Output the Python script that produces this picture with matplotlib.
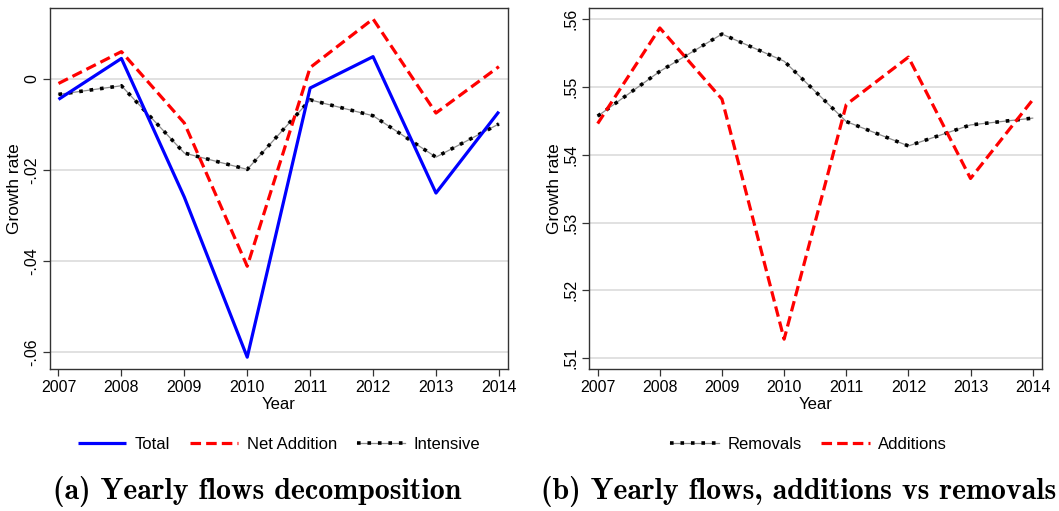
import matplotlib
matplotlib.use("Agg")
import matplotlib.pyplot as plt
from matplotlib.legend_handler import HandlerTuple
from matplotlib import font_manager

years = [2007, 2008, 2009, 2010, 2011, 2012, 2013, 2014]

# Panel (a)
total = [-0.0045, 0.0045, -0.0260, -0.0612, -0.0020, 0.0049, -0.0251, -0.0072]
net_addition = [-0.0010, 0.0060, -0.0097, -0.0412, 0.0025, 0.0132, -0.0075, 0.0027]
intensive = [-0.0034, -0.0015, -0.0163, -0.0199, -0.0046, -0.0081, -0.0172, -0.0099]

# Panel (b)
removals = [0.5457, 0.5523, 0.5578, 0.5538, 0.5449, 0.5413, 0.5444, 0.5454]
additions = [0.5446, 0.5587, 0.5482, 0.5128, 0.5474, 0.5544, 0.5365, 0.5481]

yticks_a = [0, -0.02, -0.04, -0.06]
yticklabels_a = ["0", "-.02", "-.04", "-.06"]
yticks_b = [0.51, 0.52, 0.53, 0.54, 0.55, 0.56]
yticklabels_b = [".51", ".52", ".53", ".54", ".55", ".56"]

captions = ["(a) Yearly flows decomposition", "(b) Yearly flows, additions vs removals"]

names = {f.name for f in font_manager.fontManager.ttflist}
sans = "Liberation Sans Narrow" if "Liberation Sans Narrow" in names else "Liberation Sans"
plt.rcParams["font.family"] = [sans, "DejaVu Sans"]

W, H = 1059, 511
fig = plt.figure(figsize=(W / 100, H / 100), dpi=100)

def px_axes(x0, x1, y0, y1):
    return fig.add_axes([x0 / W, 1 - y1 / H, (x1 - x0) / W, (y1 - y0) / H])

axA = px_axes(50, 508, 8, 369)
axB = px_axes(589.3, 1041.7, 8.3, 369)

LW = 2.3
BLUE = "#0000ff"
RED = "#ff0000"
dash = (0, (3.3, 1.6))


def dotline(ax, x, y):
    g, = ax.plot(x, y, color="#8c8c8c", lw=0.9, zorder=3)
    b, = ax.plot(x, y, color="black", lw=2.6, linestyle=(0, (1.0, 1.9)),
                 dash_capstyle="butt", zorder=4)
    return (g, b)


def style(ax, yticks, ylabels, ylim):
    ax.set_xlim(2006.865, 2014.145)
    ax.set_ylim(*ylim)
    ax.set_xticks(years)
    ax.set_xticklabels([str(y) for y in years], fontsize=11.5)
    ax.set_yticks(yticks)
    ax.set_yticklabels(ylabels, fontsize=11.5, rotation=90, va="center")
    ax.tick_params(direction="out", length=5, width=0.9, color="#333333", pad=3)
    ax.grid(axis="y", color="#dcdcdc", lw=1.2)
    ax.set_axisbelow(True)
    for s in ax.spines.values():
        s.set_color("#333333")
        s.set_linewidth(1.0)
    ax.set_xlabel("Year", fontsize=12, labelpad=1)
    ax.set_ylabel("Growth rate", fontsize=12.5, labelpad=1)


tuple_handler = {tuple: HandlerTuple(ndivide=1, pad=0)}

# Panel (a)
h1, = axA.plot(years, total, color=BLUE, lw=LW, zorder=5, solid_capstyle="butt")
h2, = axA.plot(years, net_addition, color=RED, lw=LW, linestyle=dash, zorder=6)
h3 = dotline(axA, years, intensive)
style(axA, yticks_a, yticklabels_a, (-0.0638, 0.0156))

axA.legend([h1, h2, h3], ["Total", "Net Addition", "Intensive"],
           handler_map=tuple_handler,
           loc="center", bbox_to_anchor=(0.5, -0.21), ncol=3, frameon=False,
           fontsize=12, handlelength=2.9, handletextpad=0.5, columnspacing=1.2)

# Panel (b)
h4 = dotline(axB, years, removals)
h5, = axB.plot(years, additions, color=RED, lw=LW, linestyle=dash, zorder=6)
style(axB, yticks_b, yticklabels_b, (0.5084, 0.5616))

axB.legend([h4, h5], ["Removals", "Additions"],
           handler_map=tuple_handler,
           loc="center", bbox_to_anchor=(0.485, -0.21), ncol=2, frameon=False,
           fontsize=12, handlelength=2.9, handletextpad=0.5, columnspacing=1.2)

serif_bold = "cmb10" if "cmb10" in names else "DejaVu Serif"
fig.text(257 / W, 1 - 491 / H, captions[0], ha="center", va="center",
         fontsize=21.5, family=serif_bold, fontweight="bold")
fig.text(799 / W, 1 - 491 / H, captions[1], ha="center", va="center",
         fontsize=21.5, family=serif_bold, fontweight="bold")

fig.savefig("out.png", dpi=100)
